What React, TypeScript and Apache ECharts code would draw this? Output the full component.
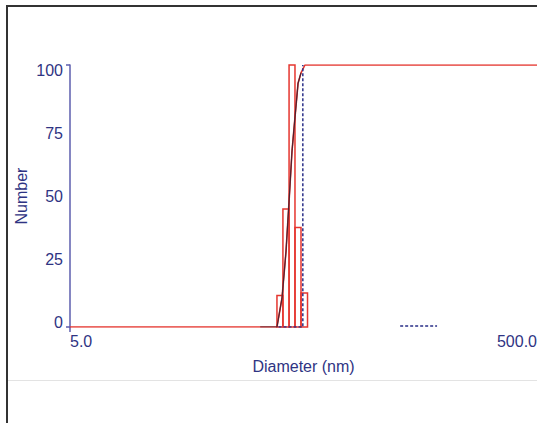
import React, { useEffect, useRef } from 'react';
import * as echarts from 'echarts';

// Histogram bins (diameter in nm) and number %
const binLow = [46.6, 49.7, 53.1, 56.6, 60.4];
const binHigh = [49.7, 53.1, 56.6, 60.4, 64.8];
const binNumber = [12, 45, 100, 38, 13];

// Cumulative curve (red)
const cumDiameter = [5, 46.6, 49.2, 51.4, 53.1, 54.8, 56.6, 58.5, 60.4, 63.0, 770];
const cumPercent = [0, 0, 11, 29, 48, 67, 80, 93, 97, 100, 100];

// Fit curve (dark)
const fitDiameter = [38.9, 46.6, 49.2, 51.4, 53.1, 54.8, 56.6, 58.5, 60.4];
const fitPercent = [0, 0, 11, 29, 48, 67, 80, 93, 97];

// Second record (navy dotted)
const navyDiameter: (number | null)[] = [47.4, 61.6, 61.6, null, 176, 262];
const navyPercent: (number | null)[] = [0, 0, 100, null, 0.4, 0.4];

const yTicks = [0, 25, 50, 75, 100];
const xLabelDiameters = [5, 500];
const X_MIN_D = 5;
const X_MAX_D = 770;
const lx = (d: number) => Math.log10(d / X_MIN_D);

export default function App() {
  const ref = useRef<HTMLDivElement>(null);
  useEffect(() => {
    const chart = echarts.init(ref.current!, null, { renderer: 'svg' });
    const font = "'Liberation Sans', Arial, sans-serif";
    const navy = '#2f3483';
    const axisCol = '#5c5eae';
    const red = '#e5362f';
    const rich: Record<string, any> = {};
    const pads: Record<number, number[]> = {
      100: [10, 0, 0, 0],
      75: [5, 0, 0, 0],
      50: [0, 0, 0, 0],
      25: [0, 0, 5, 0],
      0: [0, 0, 10, 0],
    };
    yTicks.forEach((t) => {
      rich['p' + t] = { fontSize: 16, fontFamily: font, color: navy, padding: pads[t] };
    });
    chart.setOption({
      animation: false,
      backgroundColor: '#ffffff',
      grid: { left: 70, right: 0, top: 65, bottom: 96, outerBoundsMode: 'none', containLabel: false },
      xAxis: {
        type: 'value',
        min: 0,
        max: lx(X_MAX_D),
        name: 'Diameter (nm)',
        nameLocation: 'middle',
        nameGap: 31,
        nameMoveOverlap: false,
        nameTextStyle: { color: navy, fontSize: 16, fontFamily: font },
        axisLine: { show: false },
        axisTick: { show: true, length: 5, customValues: [0], lineStyle: { color: axisCol, width: 1.5 } },
        splitLine: { show: false },
        axisLabel: {
          show: true,
          customValues: xLabelDiameters.map(lx),
          align: 'left',
          margin: 6,
          fontSize: 16,
          fontFamily: font,
          color: navy,
          formatter: (v: number) => (X_MIN_D * Math.pow(10, v)).toFixed(1),
        },
      },
      yAxis: [
        {
          type: 'value',
          min: 0,
          max: 100,
          interval: 25,
          name: 'Number',
          nameLocation: 'middle',
          nameGap: 41,
          nameMoveOverlap: false,
          nameTextStyle: { color: navy, fontSize: 16, fontFamily: font },
          axisLine: { show: true, lineStyle: { color: axisCol, width: 1.5 } },
          axisTick: { show: false },
          splitLine: { show: false },
          axisLabel: {
            margin: 7,
            fontSize: 16,
            fontFamily: font,
            color: navy,
            formatter: (v: number) => `{p${v}|${v}}`,
            rich,
          },
        },
        {
          type: 'value',
          min: 0,
          max: 100,
          interval: 100,
          position: 'left',
          axisLine: { show: false },
          axisTick: { show: true, length: 4, lineStyle: { color: axisCol, width: 1.5 } },
          axisLabel: { show: false },
          splitLine: { show: false },
        },
      ],
      graphic: [
        { type: 'rect', shape: { x: 6, y: 5, width: 531, height: 2 }, style: { fill: '#333333' }, silent: true },
        { type: 'rect', shape: { x: 6, y: 5, width: 2, height: 418 }, style: { fill: '#333333' }, silent: true },
        { type: 'rect', shape: { x: 8, y: 380, width: 529, height: 1 }, style: { fill: '#e3e3e3' }, silent: true },
      ],
      series: [
        {
          type: 'custom',
          name: 'Distribution',
          encode: { x: [0, 1], y: 2 },
          data: binLow.map((l, i) => [lx(l), lx(binHigh[i]), binNumber[i]]),
          renderItem: (params: any, api: any) => {
            const a = api.coord([api.value(0), api.value(2)]);
            const b = api.coord([api.value(1), 0]);
            return {
              type: 'rect',
              shape: { x: a[0], y: a[1], width: b[0] - a[0], height: b[1] - a[1] },
              style: { fill: 'none', stroke: red, lineWidth: 1.5 },
            };
          },
          z: 2,
        },
        {
          type: 'line',
          name: 'Cumulative',
          data: cumDiameter.map((d, i) => [lx(d), cumPercent[i]]),
          symbol: 'none',
          lineStyle: { color: red, width: 1.6 },
          z: 3,
        },
        {
          type: 'line',
          name: 'Fit',
          data: fitDiameter.map((d, i) => [lx(d), fitPercent[i]]),
          symbol: 'none',
          lineStyle: { color: '#4a2231', width: 1.2 },
          z: 4,
        },
        {
          type: 'line',
          name: 'Record 2',
          data: navyDiameter.map((d, i) => (d === null ? ['-', '-'] : [lx(d), navyPercent[i] as number])),
          symbol: 'none',
          connectNulls: false,
          lineStyle: { color: '#2a2f88', width: 1.5, type: [3, 2] },
          z: 5,
        },
      ],
    });
    return () => chart.dispose();
  }, []);
  return (
    <div
      ref={ref}
      style={{ position: 'absolute', left: 0, top: 0, width: 537, height: 423, background: '#fff' }}
    />
  );
}
